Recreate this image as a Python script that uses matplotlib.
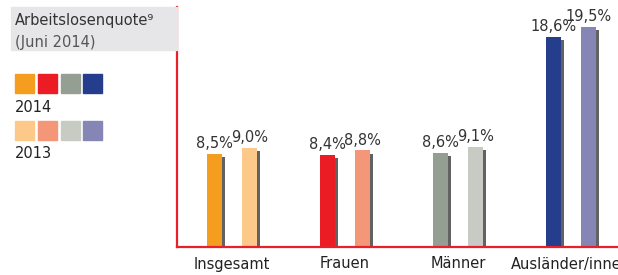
import matplotlib
matplotlib.use("Agg")
import matplotlib.pyplot as plt
from matplotlib.patches import Rectangle
import numpy as np

plt.rcParams['font.family'] = ['Liberation Sans Narrow', 'DejaVu Sans']

categories = ["Insgesamt", "Frauen", "Männer", "Ausländer/innen"]
values_2014 = [8.5, 8.4, 8.6, 18.6]
values_2013 = [9.0, 8.8, 9.1, 19.5]
labels_2014 = ["8,5%", "8,4%", "8,6%", "18,6%"]
labels_2013 = ["9,0%", "8,8%", "9,1%", "19,5%"]
colors_2014 = ["#F59D1E", "#EC1C24", "#959E93", "#243D8C"]
colors_2013 = ["#FDC98A", "#F49678", "#C7CBC4", "#8686B6"]
legend_years = ["2014", "2013"]
title = "Arbeitslosenquote\u2079"
subtitle = "(Juni 2014)"

W, H = 618, 275
fig = plt.figure(figsize=(W / 100, H / 100), dpi=100)

def fx(px):
    return px / W

def fy(py):
    return 1 - py / H

red = "#E8202A"
ax = fig.add_axes([fx(177), fy(247), 1 - fx(177), fy(7) - fy(247)])
ax.set_xlim(-0.487, 3.416)
ax.set_ylim(0.45, 21.2)
for s in ["top", "right"]:
    ax.spines[s].set_visible(False)
for s in ["left", "bottom"]:
    ax.spines[s].set_color(red)
    ax.spines[s].set_linewidth(1.6)
ax.set_xticks([])
ax.set_yticks([])
ax.patch.set_alpha(0)

x = np.arange(len(categories))
off = 0.155
bw = 0.133
sdx = 0.027
sdy = 0.27
shadow = "#626262"
for i in range(len(categories)):
    for xv, v, c, lab in [(x[i] - off, values_2014[i], colors_2014[i], labels_2014[i]),
                          (x[i] + off, values_2013[i], colors_2013[i], labels_2013[i])]:
        ax.bar(xv + sdx, v - sdy, width=bw, bottom=0, color=shadow, zorder=1)
        ax.bar(xv, v, width=bw, bottom=0, color=c, zorder=2)
        ax.text(xv, v + 0.25, lab, ha="center", va="bottom", fontsize=10.5,
                color="#333333", zorder=3)
    ax.annotate(categories[i], xy=(x[i], 0.45), xytext=(0, -17),
                textcoords="offset pixels", ha="center", va="center",
                fontsize=10.5, color="#222222", annotation_clip=False)

# header box
fig.patches.append(Rectangle((fx(11), fy(50)), fx(177) - fx(11), fy(7) - fy(50),
                             transform=fig.transFigure, color="#E6E6E8", zorder=0))
fig.text(fx(15), fy(20), title, ha="left", va="center", fontsize=10.5, color="#333333")
fig.text(fx(15), fy(42), subtitle, ha="left", va="center", fontsize=10.5, color="#555555")

# legend squares
sq_x = [15, 38, 61, 83]
for row, (cols, ytop, yr, ytxt) in enumerate([(colors_2014, 74, legend_years[0], 107),
                                                (colors_2013, 121, legend_years[1], 154)]):
    for sx, c in zip(sq_x, cols):
        fig.patches.append(Rectangle((fx(sx), fy(ytop + 19)), fx(19), 19 / H,
                                     transform=fig.transFigure, color=c))
    fig.text(fx(15), fy(ytxt), yr, ha="left", va="center", fontsize=10.5, color="#222222")

fig.savefig("out.png", dpi=100)
